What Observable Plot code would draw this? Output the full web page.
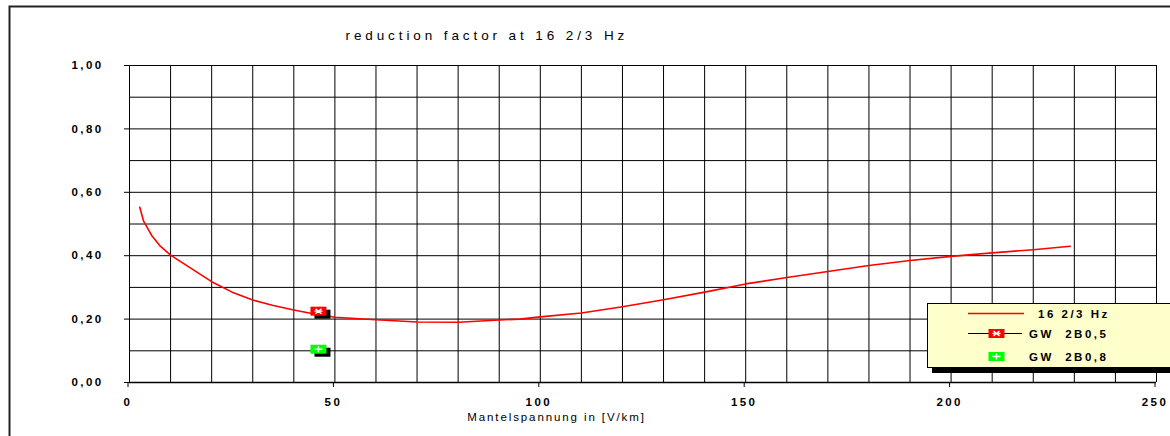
<!DOCTYPE html>
<html><head><meta charset="utf-8">
<script src="https://cdn.jsdelivr.net/npm/d3@7"></script>
<script src="https://cdn.jsdelivr.net/npm/@observablehq/plot@0.6"></script>
<style>
html,body{margin:0;padding:0;background:#fff;}
#chart svg{display:block;}
g[aria-label="y-axis tick label"] text, g[aria-label="x-axis tick label"] text {letter-spacing:2.4px;}
.legend text {letter-spacing:2.5px; white-space:pre;}
</style></head><body><div id="chart"></div>
<script>
// ---- data ----
const title = "reduction factor at 16 2/3 Hz";
const xLabel = "Mantelspannung in [V/km]";
const seriesName = "16 2/3 Hz";
const curveX = [2.5, 3.4, 5.4, 7.5, 10, 15, 20, 25, 30, 35, 40, 45, 50, 60, 70, 80, 90, 95, 100, 110, 120, 130, 140, 150, 160, 170, 180, 190, 200, 210, 220, 229];
const curveY = [0.553, 0.51, 0.464, 0.43, 0.402, 0.36, 0.318, 0.285, 0.26, 0.243, 0.229, 0.216, 0.206, 0.198, 0.191, 0.19, 0.197, 0.2, 0.207, 0.219, 0.239, 0.261, 0.285, 0.311, 0.331, 0.35, 0.369, 0.385, 0.398, 0.409, 0.419, 0.43];
const markerNames = ["GW  2B0,5", "GW  2B0,8"];
const markerX = [46, 46];
const markerY = [0.225, 0.105];
const markerColors = ["#ff0000", "#00ff00"];
const markerGlyphs = ["star", "plus"];
const xTicks = [0, 50, 100, 150, 200, 250];
const yTicks = [0, 0.2, 0.4, 0.6, 0.8, 1.0];
const xGrid = [0,10,20,30,40,50,60,70,80,90,100,110,120,130,140,150,160,170,180,190,200,210,220,230,240,250];
const yGrid = [0,0.1,0.2,0.3,0.4,0.5,0.6,0.7,0.8,0.9,1.0];

// ---- tables ----
const curve = curveX.map((x, i) => ({x, y: curveY[i]}));
const markers = markerNames.map((name, i) => ({name, x: markerX[i], y: markerY[i], color: markerColors[i], glyph: markerGlyphs[i]}));

const boxSymbol = {draw(ctx) { ctx.rect(-8, -4.5, 16, 9); }};
const starSymbol = {draw(ctx) {
  ctx.moveTo(-4, 0); ctx.lineTo(4, 0);
  ctx.moveTo(-3, -2.5); ctx.lineTo(3, 2.5);
  ctx.moveTo(-3, 2.5); ctx.lineTo(3, -2.5);
}};
const plusSymbol = {draw(ctx) {
  ctx.moveTo(-4, 0); ctx.lineTo(4, 0);
  ctx.moveTo(0, -3); ctx.lineTo(0, 3);
}};
const fmt = d => d.toFixed(2).replace(".", ",");
const font = "Arial, 'Liberation Sans', sans-serif";

const chart = Plot.plot({
  width: 1170, height: 436,
  marginLeft: 129, marginRight: 14, marginTop: 65, marginBottom: 54,
  style: {fontFamily: font, background: "#fff", color: "#000"},
  x: {domain: [0, 250]},
  y: {domain: [0, 1]},
  marks: [
    Plot.ruleX(xGrid, {x: d => d, stroke: "#000", strokeWidth: 1}),
    Plot.ruleY(yGrid, {y: d => d, stroke: "#000", strokeWidth: 1}),
    Plot.axisY({ticks: yTicks, tickSize: 5, tickPadding: 21, tickFormat: fmt, label: null, fontSize: 11.5, fontWeight: "bold", stroke: "#000"}),
    Plot.axisX({ticks: xTicks, tickSize: 5, tickPadding: 10, tickFormat: d => String(d), label: null, fontSize: 11.5, fontWeight: "bold", dx: -1.5, stroke: "#000"}),
    Plot.ruleY([0], {stroke: "#000", strokeWidth: 1.5}),
    Plot.line(curve, {x: "x", y: "y", stroke: "#ff0000", strokeWidth: 1.6}),
    Plot.dot(markers, {x: "x", y: "y", symbol: boxSymbol, fill: "#000", stroke: "none", dx: 4, dy: 3}),
    Plot.dot(markers, {x: "x", y: "y", symbol: boxSymbol, fill: "color", stroke: "none"}),
    Plot.dot(markers.filter(d => d.glyph === "star"), {x: "x", y: "y", symbol: starSymbol, fill: "none", stroke: "#fff", strokeWidth: 1.4}),
    Plot.dot(markers.filter(d => d.glyph === "plus"), {x: "x", y: "y", symbol: plusSymbol, fill: "none", stroke: "#fff", strokeWidth: 1.4}),
    Plot.text([title], {frameAnchor: "top-left", text: d => d, dx: 216, dy: -35, textAnchor: "start", fontSize: 13.5, fill: "#000"}),
    Plot.text([xLabel], {frameAnchor: "bottom-left", text: d => d, dx: 427, dy: 38, textAnchor: "middle", fontSize: 11.5, fill: "#000"})
  ]
});
document.getElementById("chart").appendChild(chart);

const svg = d3.select(chart);
svg.selectAll("text").filter(function() { return this.textContent === title; }).style("letter-spacing", "3.9px");
svg.selectAll("text").filter(function() { return this.textContent === xLabel; }).style("letter-spacing", "1.9px");

// ---- outer border and legend ----
svg.append("rect").attr("x", 9.5).attr("y", 6.5).attr("width", 1300).attr("height", 600)
  .attr("fill", "none").attr("stroke", "#222").attr("stroke-width", 2);

const lg = svg.append("g").attr("class", "legend").attr("font-family", font).attr("font-size", 11.5).attr("font-weight", "bold").attr("text-anchor", "start");
lg.append("rect").attr("x", 932).attr("y", 308).attr("width", 300).attr("height", 65).attr("fill", "#000");
lg.append("rect").attr("x", 927.5).attr("y", 303.5).attr("width", 300).attr("height", 64).attr("fill", "#ffffcc").attr("stroke", "#000");
lg.append("line").attr("x1", 968).attr("x2", 1024).attr("y1", 313.5).attr("y2", 313.5).attr("stroke", "#ff0000").attr("stroke-width", 1.3);
lg.append("text").attr("x", 1038).attr("y", 317.5).text(seriesName);
const rowY = [333.5, 356.5];
const glyphOf = {star: starSymbol, plus: plusSymbol};
markers.forEach((m, i) => {
  const y = rowY[i];
  if (i === 0) lg.append("line").attr("x1", 968).attr("x2", 1022).attr("y1", y).attr("y2", y).attr("stroke", "#000").attr("stroke-width", 1);
  lg.append("path").attr("transform", `translate(996.5,${y})`).attr("d", d3.symbol(boxSymbol)()).attr("fill", m.color);
  lg.append("path").attr("transform", `translate(996.5,${y})`).attr("d", d3.symbol(glyphOf[m.glyph])()).attr("fill", "none").attr("stroke", "#fff").attr("stroke-width", 1.4);
  lg.append("text").attr("x", 1029).attr("y", y + 4).text(m.name);
});
</script></body></html>
